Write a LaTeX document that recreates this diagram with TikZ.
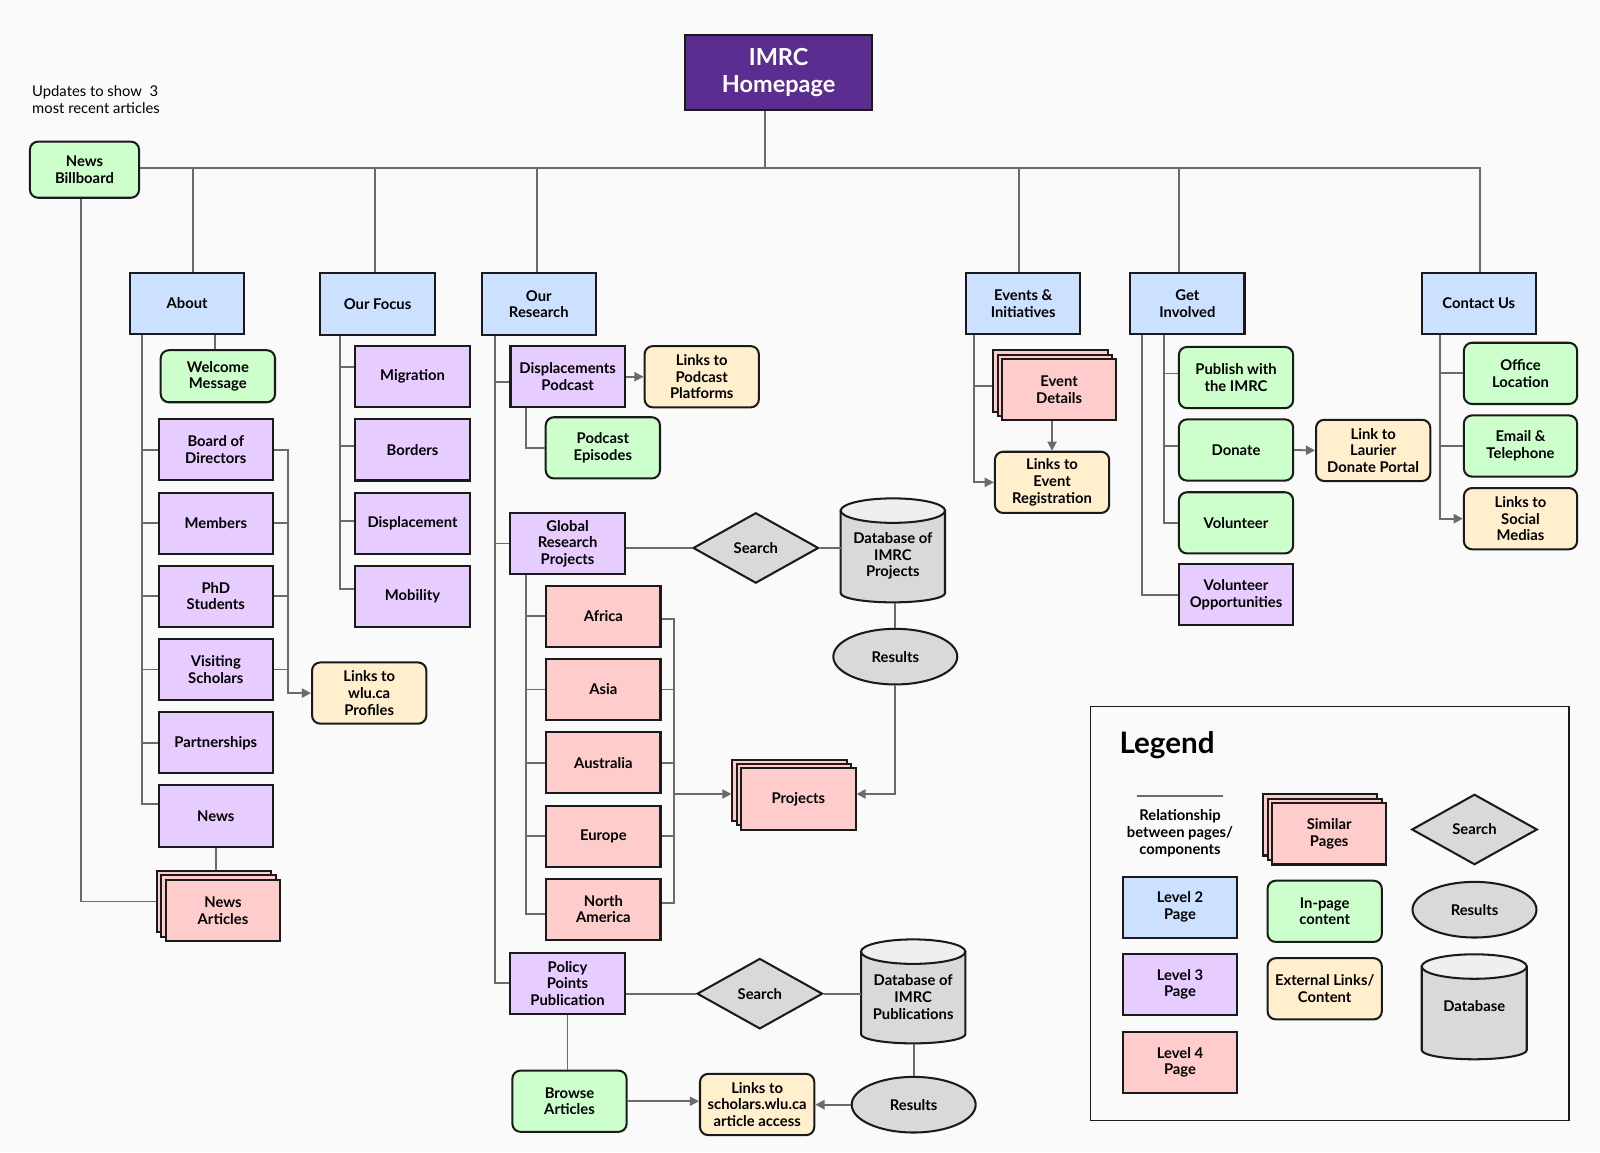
\documentclass[tikz,border=0pt]{standalone}
\usepackage{fontspec}
\setmainfont{Lato}
\usetikzlibrary{shapes.geometric,arrows.meta,calc}
\definecolor{bg}{HTML}{FAFAFA}
\definecolor{lvtwo}{HTML}{CCE0FF}
\definecolor{lvthree}{HTML}{E6CCFF}
\definecolor{lvfour}{HTML}{FFCCCC}
\definecolor{grn}{HTML}{CCFFCC}
\definecolor{org}{HTML}{FFEFCC}
\definecolor{gry}{HTML}{D9D9D9}
\definecolor{dbtopc}{HTML}{EFEFEF}
\definecolor{homec}{HTML}{5B2D90}
\definecolor{lnc}{HTML}{6B6B6B}
\definecolor{bdr}{HTML}{1A1A1A}
\newcommand\nf{\fontsize{14.5}{16.3}\selectfont\bfseries}
\newcommand\dbcyl[5]{%
 \pgfmathsetmacro\dbL{#2-#5/2}%
 \pgfmathsetmacro\dbR{#2+#5/2}%
 \pgfmathsetmacro\dbT{#3+12}%
 \pgfmathsetmacro\dbB{#4-9}%
 \pgfmathsetmacro\dbBc{#4-4}%
 \pgfmathsetmacro\dbhw{#5/2}%
 \pgfmathsetmacro\dbCl{#2-0.5523*#5/2}%
 \pgfmathsetmacro\dbCr{#2+0.5523*#5/2}%
 \pgfmathsetmacro\dbH{#4-#3}%
 \pgfmathsetmacro\dbM{(#3+#4)/2}%
 \filldraw[dbb] (\dbL,\dbT) -- (\dbL,\dbB) .. controls (\dbL,\dbBc) and (\dbCl,#4) .. (#2,#4) .. controls (\dbCr,#4) and (\dbR,\dbBc) .. (\dbR,\dbB) -- (\dbR,\dbT) -- cycle;
 \filldraw[dbt] (#2,\dbT) ellipse [x radius=\dbhw pt, y radius=12pt];
 \node[inner sep=0pt, minimum width=#5pt, minimum height=\dbH pt] (#1) at (#2,\dbM) {};
}
\begin{document}
\begin{tikzpicture}[x=1pt,y=-1pt,
 bx/.style={draw=bdr, line width=2pt, inner sep=0pt, align=center, font=\nf, text=black},
 pg/.style={bx, rectangle, minimum width=112pt, minimum height=60pt},
 lt/.style={pg, fill=lvtwo},
 lh/.style={pg, fill=lvthree},
 lf/.style={pg, fill=lvfour},
 inpg/.style={pg, fill=grn, rounded corners=8pt},
 extl/.style={pg, fill=org, rounded corners=8pt},
 srch/.style={bx, diamond, fill=gry, minimum width=123pt, minimum height=69pt, aspect=1.77},
 resl/.style={bx, ellipse, fill=gry, minimum width=121.5pt, minimum height=54.5pt},
 conn/.style={draw=lnc, line width=1.8pt},
 arr/.style={conn, -{Triangle[length=9pt,width=9pt]}},
 dbb/.style={draw=bdr, line width=2pt, fill=gry},
 dbt/.style={draw=bdr, line width=2pt, fill=dbtopc},
 dbtxt/.style={font=\nf, align=center, inner sep=0pt}
]
\path[use as bounding box, fill=bg] (0,0) rectangle (1568,1129);

% ---------- nodes ----------
\node[bx, fill=homec, minimum width=184pt, minimum height=74pt, text=white, font=\fontsize{23}{27}\selectfont\bfseries] (home) at (763,71) {IMRC\\Homepage};
\node[inpg, minimum width=107pt, minimum height=55pt] (nb) at (82.8,166.3) {News\\Billboard};
\node[font=\fontsize{14.5}{16.3}\selectfont, align=left, anchor=north west, inner sep=0pt] (note) at (31.4,84) {Updates to show\ \ 3\\most recent articles};

\node[lt] (about) at (183.4,297.1) {About};
\node[lt] (focus) at (370,298) {Our Focus};
\node[lt] (research) at (528,298) {Our\\Research};
\node[lt] (events) at (1002.7,297.3) {Events \&\\Initiatives};
\node[lt] (getinv) at (1163.6,297.3) {Get\\Involved};
\node[lt] (contact) at (1449.2,297.3) {Contact Us};

% About
\node[inpg, minimum height=51pt] (welcome) at (213.5,368.7) {Welcome\\Message};
\node[lh] (board) at (211.5,440.8) {Board of\\Directors};
\node[lh] (members) at (211.5,512.7) {Members};
\node[lh] (phd) at (211.5,584.3) {PhD\\Students};
\node[lh] (visiting) at (211.5,656.1) {Visiting\\Scholars};
\node[lh] (partner) at (211.5,728) {Partnerships};
\node[lh] (news) at (211.5,799.7) {News};
\node[lf] (naB) at (209.7,883.4) {};
\node[lf] (naM) at (214.1,887.8) {};
\node[lf] (narts) at (218.5,892.2) {News\\Articles};
\node[extl] (wlu) at (361.8,679.2) {Links to\\wlu.ca\\Profiles};

% Focus
\node[lh] (migration) at (404.3,369) {Migration};
\node[lh] (borders) at (404.3,440.9) {Borders};
\node[lh] (displ) at (404.3,512.7) {Displacement};
\node[lh] (mobility) at (404.3,584.3) {Mobility};

% Research
\node[lh] (podcast) at (556.3,369.2) {Displacements\\Podcast};
\node[extl] (lpod) at (687.7,369.2) {Links to\\Podcast\\Platforms};
\node[inpg] (episodes) at (590.8,438.9) {Podcast\\Episodes};
\node[lh] (global) at (556.2,532.6) {Global\\Research\\Projects};
\node[srch] (search1) at (740.7,537) {Search};
\dbcyl{db1}{875}{488.4}{590.3}{102.2}
\node[dbtxt] (db1t) at (875,545) {Database of\\IMRC\\Projects};
\node[resl] (res1) at (877.4,643.5) {Results};
\node[lf] (projB) at (773.8,774.4) {};
\node[lf] (projM) at (778.1,778.7) {};
\node[lf] (proj) at (782.4,783) {Projects};
\node[lf] (africa) at (591.3,604) {Africa};
\node[lf] (asia) at (591.3,675.7) {Asia};
\node[lf] (australia) at (591.3,747.6) {Australia};
\node[lf] (europe) at (591.3,819.5) {Europe};
\node[lf] (namer) at (591.3,891) {North\\America};
\node[lh] (policy) at (556.2,963.7) {Policy\\Points\\Publication};
\node[srch] (search2) at (744.6,973.8) {Search};
\dbcyl{db2}{894.9}{920.6}{1022.5}{102.2}
\node[dbtxt] (db2t) at (894.9,977) {Database of\\IMRC\\Publications};
\node[resl] (res2) at (895.4,1082.6) {Results};
\node[extl] (scholars) at (742,1082.4) {Links to\\scholars.wlu.ca\\article access};
\node[inpg] (browse) at (558.1,1079.2) {Browse\\Articles};

% Events
\node[lf] (evdB) at (1029.4,373.4) {};
\node[lf] (evdM) at (1033.65,377.65) {};
\node[lf] (evdet) at (1037.9,381.9) {Event\\Details};
\node[extl] (evreg) at (1031,472.7) {Links to\\Event\\Registration};

% Get involved
\node[inpg] (publish) at (1211.3,370) {Publish with\\the IMRC};
\node[inpg] (donate) at (1211.3,441) {Donate};
\node[inpg] (volunteer) at (1211.3,512.4) {Volunteer};
\node[lh] (volopp) at (1211.3,582.8) {Volunteer\\Opportunities};
\node[extl] (laurier) at (1345.7,441.4) {Link to\\Laurier\\Donate Portal};

% Contact
\node[inpg, minimum width=111pt] (office) at (1490.1,365.9) {Office\\Location};
\node[inpg, minimum width=111pt] (email) at (1490.1,437.1) {Email \&\\Telephone};
\node[extl, minimum width=111pt] (social) at (1490.1,508.3) {Links to\\Social\\Medias};

% ---------- connectors ----------
\coordinate (hb) at (750,164.3);
\coordinate (busR) at (1450.4,164.3);
\draw[conn] (hb |- home.south) -- (hb);
\draw[conn] (nb.east |- hb) -- (busR) -- (busR |- contact.north);
\coordinate (tabout) at (188.8,164.3);
\coordinate (tfocus) at (367.5,164.3);
\coordinate (tresearch) at (526,164.3);
\coordinate (tevents) at (998.3,164.3);
\coordinate (tgetinv) at (1155.8,164.3);
\foreach \n in {about,focus,research,events,getinv} \draw[conn] (t\n) -- (t\n |- \n.north);

\coordinate (nbx) at (79,0);
\draw[conn] (nb.south -| nbx) |- (naB.west);

\coordinate (aL) at (138.8,0);
\draw[conn] (about.south -| aL) |- ([yshift=11.5pt]news.west);
\foreach \n in {board,members,phd,visiting,partner} \draw[conn] (aL |- \n.west) -- (\n.west);
\coordinate (wx) at (210.7,0);
\draw[conn] (about.south -| wx) -- (welcome.north -| wx);
\draw[conn] (news.south) -- (news.south |- naB.north);
\coordinate (aR) at (282.6,0);
\draw[arr] (board.east) -- (board.east -| aR) |- (wlu.west);
\foreach \n in {members,phd,visiting} \draw[conn] (\n.east) -- (\n.east -| aR);

\coordinate (fL) at (333.2,0);
\draw[conn] (focus.south -| fL) |- ([yshift=7.4pt]mobility.west);
\draw[conn] ([yshift=9pt]migration.west) -- ++(-15,0);
\draw[conn] ([yshift=4pt]borders.west) -- ++(-15,0);
\draw[conn] ([yshift=2pt]displ.west) -- ++(-15,0);

\coordinate (rL) at (484.8,0);
\draw[conn] (research.south -| rL) |- (policy.west);
\draw[conn] ([yshift=-4.8pt]podcast.west) -- ++(-15.3,0);
\draw[conn] (global.west) -- ++(-15.4,0);
\draw[arr] (podcast.east) -- (lpod.west);
\coordinate (pX) at (515.5,0);
\draw[conn] (podcast.south -| pX) |- (episodes.west);
\draw[conn] (search1.west -| global.east) -- (search1.west);
\draw[conn] (search1.east) -- (search1.east -| db1.west);
\draw[conn] (res1.north |- db1.south) -- (res1.north);
\draw[arr] (res1.south) |- ([yshift=4.9pt]proj.east);
\coordinate (gL) at (515.5,0);
\draw[conn] (global.south -| gL) |- ([yshift=-4.4pt]namer.west);
\foreach \n in {africa,asia,australia,europe} \draw[conn] (\n.west) -- ++(-19.6,0);
\draw[conn] ([yshift=-3pt]africa.east) -| ([xshift=12.4pt,yshift=5.7pt]namer.east) -- ([yshift=5.7pt]namer.east);
\foreach \n in {asia,australia,europe} \draw[conn] (\n.east) -- ++(12.4,0);
\draw[arr] ([xshift=-57.7pt,yshift=-3.7pt]projB.west) -- ([yshift=-3.7pt]projB.west);
\draw[conn] (search2.west -| policy.east) -- (search2.west);
\draw[conn] (search2.east) -- (search2.east -| db2.west);
\draw[conn] (res2.north |- db2.south) -- (res2.north);
\draw[arr] (res2.west) -- (res2.west -| scholars.east);
\draw[conn] (policy.south) -- (policy.south |- browse.north);
\draw[arr] (browse.east) -- (browse.east -| scholars.west);

\coordinate (eL) at (954.2,0);
\draw[arr] (events.south -| eL) |- (evreg.west);
\draw[conn] ([yshift=-4.9pt]evdB.west) -- ++(-19.3,0);
\draw[arr] (evreg.north |- evdet.south) -- (evreg.north);

\coordinate (gO) at (1119.2,0);
\coordinate (gI) at (1141,0);
\draw[conn] (getinv.south -| gO) |- (volopp.west);
\draw[conn] (getinv.south -| gI) |- (volunteer.west);
\draw[conn] ([yshift=4pt]publish.west) -- ++(-14.1,0);
\draw[conn] ([yshift=4pt]donate.west) -- ++(-14.1,0);
\draw[arr] (donate.east) -- (laurier.west);

\coordinate (cL) at (1411.2,0);
\draw[arr] (contact.south -| cL) |- (social.west);
\draw[conn] (office.west) -- ++(-23.5,0);
\draw[conn] (email.west) -- ++(-23.5,0);

% ---------- legend ----------
\node[draw=bdr, line width=1.5pt, minimum width=468.7pt, minimum height=405.5pt, inner sep=0pt] (legend) at (1303.25,895.25) {};
\node[font=\fontsize{29}{34}\selectfont\bfseries, anchor=base west, inner sep=0pt] (lgtitle) at (1096.9,738.3) {Legend};
\coordinate (lgla) at (1114,779.8);
\coordinate (lglb) at (1198.9,779.8);
\draw[conn] (lgla) -- (lglb);
\node[dbtxt] (lgrel) at (1156.4,816.5) {Relationship\\between pages/\\components};
\node[lt] (lvtwo) at (1156.4,889) {Level 2\\Page};
\node[lh] (lvthree) at (1156.4,964.8) {Level 3\\Page};
\node[lf] (lvfour) at (1156.4,1040.9) {Level 4\\Page};
\node[lf] (lsB) at (1293.8,808.4) {};
\node[lf] (lsM) at (1298.2,812.8) {};
\node[lf] (lsim) at (1302.6,817.2) {Similar\\Pages};
\node[inpg] (linpage) at (1298.2,893.1) {In-page\\content};
\node[extl] (lext) at (1298.2,969) {External Links/\\Content};
\node[srch] (lsearch) at (1445,812.9) {Search};
\node[resl] (lres) at (1445,891.5) {Results};
\dbcyl{ldb}{1444.75}{935.2}{1038.1}{102.9}
\node[dbtxt] (ldbt) at (1444.75,986) {Database};
\end{tikzpicture}
\end{document}
